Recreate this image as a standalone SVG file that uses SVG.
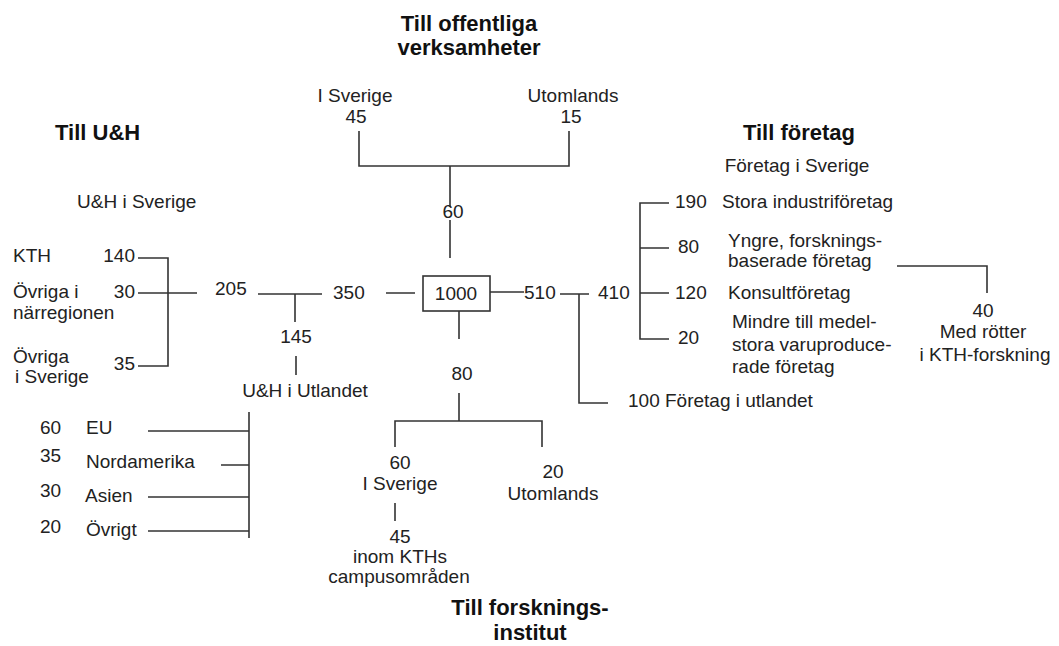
<svg xmlns="http://www.w3.org/2000/svg" width="1059" height="646" viewBox="0 0 1059 646">
<style>
text{font-family:"Liberation Sans",Arial,sans-serif;font-size:19px;fill:#222}
.t{font-weight:bold;font-size:22px;fill:#111}
.c{text-anchor:middle}
.e{text-anchor:end}
.ln{stroke:#333;stroke-width:1.6;fill:none}
</style>
<rect width="1059" height="646" fill="#fff"/>
<g id="connectors" class="ln">
<path d="M359,131V166H569V131M450,166V207M450,220V258"/>
<path d="M386,293H415M490,292H524"/>
<path d="M560,294H589M579,294V403H608"/>
<path d="M669,203H640V339H669M640,248H669M640,293H669"/>
<path d="M897,266H987V293"/>
<path d="M138,258H168V366H138M138,293H197"/>
<path d="M258,294H322M295,294V322M296,356V375"/>
<path d="M249,412V538M148,431H249M221,465H249M148,497H249M148,531H249"/>
<path d="M459,311V339M459,393V421M395,447V421H542V447M395,503V521"/>
</g>
<g id="center"><rect x="423" y="276" width="67" height="35" fill="#fff" stroke="#333" stroke-width="1.6"/><text class="c" x="456" y="300">1000</text></g>
<g id="title-offentliga"><text class="t c" x="469" y="31">Till offentliga</text><text class="t c" x="469" y="55">verksamheter</text></g>
<g id="off-sverige"><text class="c" x="355" y="102">I Sverige</text><text class="c" x="356" y="123">45</text></g>
<g id="off-utomlands"><text class="c" x="573" y="102">Utomlands</text><text class="c" x="571" y="123">15</text></g>
<g id="off-60"><text class="c" x="453" y="218">60</text></g>
<g id="title-uh"><text class="t" x="55" y="140">Till U&amp;H</text></g>
<g id="uh-sverige"><text x="77" y="208">U&amp;H i Sverige</text></g>
<g id="uh-kth"><text x="13" y="262">KTH</text><text class="e" x="135" y="262">140</text></g>
<g id="uh-narregion"><text x="13" y="298">Övriga i</text><text x="13" y="319">närregionen</text><text class="e" x="135" y="298">30</text></g>
<g id="uh-ovriga"><text x="13" y="363">Övriga</text><text x="15" y="383">i Sverige</text><text class="e" x="135" y="370">35</text></g>
<g id="uh-205"><text x="215" y="295">205</text></g>
<g id="uh-350"><text x="333" y="299">350</text></g>
<g id="uh-145"><text class="c" x="296" y="343">145</text></g>
<g id="uh-utlandet"><text class="c" x="305" y="397">U&amp;H i Utlandet</text></g>
<g id="uh-eu"><text x="40" y="434">60</text><text x="86" y="434">EU</text></g>
<g id="uh-nordamerika"><text x="40" y="462">35</text><text x="86" y="468">Nordamerika</text></g>
<g id="uh-asien"><text x="40" y="497">30</text><text x="85" y="502">Asien</text></g>
<g id="uh-ovrigt"><text x="40" y="533">20</text><text x="86" y="536">Övrigt</text></g>
<g id="f-510"><text x="524" y="299">510</text></g>
<g id="f-410"><text x="598" y="299">410</text></g>
<g id="title-foretag"><text class="t c" x="799" y="140">Till företag</text></g>
<g id="f-sverige"><text class="c" x="797" y="172">Företag i Sverige</text></g>
<g id="f-stora"><text x="675" y="208">190</text><text x="722" y="208">Stora industriföretag</text></g>
<g id="f-yngre"><text x="678" y="253">80</text><text x="728" y="247">Yngre, forsknings-</text><text x="728" y="267">baserade företag</text></g>
<g id="f-konsult"><text x="675" y="299">120</text><text x="728" y="299">Konsultföretag</text></g>
<g id="f-mindre"><text x="678" y="344">20</text><text x="732" y="328">Mindre till medel-</text><text x="732" y="351">stora varuproduce-</text><text x="732" y="373">rade företag</text></g>
<g id="f-rotter"><text class="c" x="983" y="317">40</text><text class="c" x="983" y="338">Med rötter</text><text class="c" x="985" y="361">i KTH-forskning</text></g>
<g id="f-utlandet"><text x="628" y="407">100 Företag i utlandet</text></g>
<g id="fi-80"><text class="c" x="462" y="380">80</text></g>
<g id="fi-sverige"><text class="c" x="400" y="469">60</text><text class="c" x="400" y="490">I Sverige</text></g>
<g id="fi-kth"><text class="c" x="400" y="543">45</text><text class="c" x="400" y="563">inom KTHs</text><text class="c" x="399" y="583">campusområden</text></g>
<g id="fi-utomlands"><text class="c" x="553" y="478">20</text><text class="c" x="553" y="500">Utomlands</text></g>
<g id="title-institut"><text class="t c" x="530" y="615">Till forsknings-</text><text class="t c" x="530" y="640">institut</text></g>
</svg>
